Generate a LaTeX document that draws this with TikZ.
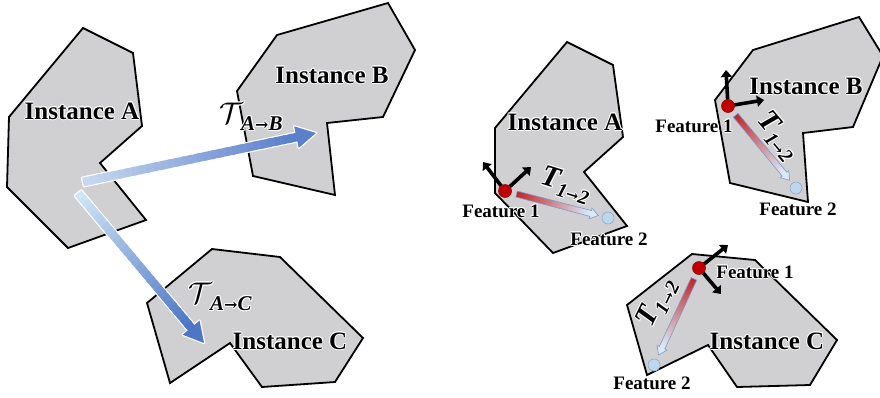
\documentclass[tikz,border=0pt]{standalone}
\usepackage{graphicx}
\usepackage{fontspec}
\setmainfont{Liberation Serif}
\newfontfamily\arrowfont{DejaVu Serif}
\usetikzlibrary{calc,arrows.meta}

\definecolor{shapegray}{HTML}{D0CFD1}
\definecolor{featred}{HTML}{C00000}
\definecolor{featredEdge}{HTML}{8A0A0A}
\definecolor{featblue}{HTML}{BDD7EE}
\definecolor{featblueEdge}{HTML}{8FAAC8}
\definecolor{palearrow}{HTML}{DCE8F5}
\definecolor{arrowedge}{HTML}{7C9CC9}
\definecolor{shaftred}{HTML}{C3262C}
\definecolor{paleAB}{HTML}{C8D9EF}
\definecolor{deepAB}{HTML}{5A7FCB}
\definecolor{paleAC}{HTML}{D0E5F6}
\definecolor{deepAC}{HTML}{4D77C6}

% text with a soft white outline
\newcommand\halo[1]{%
  \def\halocopy##1##2{\makebox[0pt][l]{\kern##1\raisebox{##2}{\color{white}#1}}}%
  \halocopy{1pt}{0pt}\halocopy{-1pt}{0pt}\halocopy{0pt}{1pt}\halocopy{0pt}{-1pt}%
  \halocopy{0.7pt}{0.7pt}\halocopy{-0.7pt}{0.7pt}\halocopy{0.7pt}{-0.7pt}\halocopy{-0.7pt}{-0.7pt}%
  #1}

% gradient arrow: #1 tail, #2 tip, #3 tail colour, #4 tip colour,
% #5 half shaft width, #6 half head width, #7 head length,
% #8 style drawn under, #9 style drawn over
\newcommand\gradarrow[9]{%
  \coordinate (#1-hb) at ($(#2)!#7!(#1)$);
  \path[#8] ($(#1)!#5!90:(#2)$) -- ($(#1-hb)!#5!90:(#2)$) -- ($(#1-hb)!#6!90:(#2)$)
    -- (#2) -- ($(#1-hb)!#6!-90:(#2)$) -- ($(#1-hb)!#5!-90:(#2)$) -- ($(#1)!#5!-90:(#2)$) -- cycle;
  \foreach \k in {0,...,29}{%
    \pgfmathsetmacro\ta{\k/30}%
    \pgfmathsetmacro\tb{(\k+1.4)/30}%
    \pgfmathtruncatemacro\mixp{100-100*\k/29}%
    \draw[line width=2*#5, draw=#3!\mixp!#4] ($(#1)!\ta!(#1-hb)$) -- ($(#1)!\tb!(#1-hb)$);
  }
  \fill[#4] ($(#1-hb)!#6!90:(#2)$) -- (#2) -- ($(#1-hb)!#6!-90:(#2)$) -- cycle;
  \path[#9] ($(#1)!#5!90:(#2)$) -- ($(#1-hb)!#5!90:(#2)$) -- ($(#1-hb)!#6!90:(#2)$)
    -- (#2) -- ($(#1-hb)!#6!-90:(#2)$) -- ($(#1-hb)!#5!-90:(#2)$) -- ($(#1)!#5!-90:(#2)$) -- cycle;
}

\tikzset{
  region/.style={fill=shapegray, draw=black, line width=1.8pt, line join=miter},
  inst/.style={font=\fontsize{25}{25}\selectfont\bfseries, inner sep=0pt},
  feat/.style={font=\fontsize{19}{19}\selectfont\bfseries, inner sep=0pt},
  translabel/.style={inner sep=0pt},
  axisarrow/.style={line width=3.6pt, -{Triangle[length=7pt,width=11pt]}},
  dotone/.style={circle, fill=featred, draw=featredEdge, line width=0.6pt, minimum size=13pt, inner sep=0pt},
  dottwo/.style={circle, fill=featblue, draw=featblueEdge, line width=0.6pt, minimum size=12pt, inner sep=0pt},
  whiteunder/.style={draw=white, line width=2.4pt, line join=round},
  blueover/.style={draw=arrowedge, line width=0.6pt, line join=miter},
  nothing/.style={},
}

\newcommand\calT[2]{\halo{\fontsize{24.88}{25}\selectfont\scalebox{1.2}{$\mathcal{T}$}\kern-2pt\raisebox{-7pt}{\fontsize{21}{21}\selectfont\bfseries\itshape #1{\arrowfont\upshape\bfseries\fontsize{16}{16}\selectfont→}#2}}}
\newcommand\featT{\halo{\fontsize{30}{30}\selectfont\bfseries\itshape T\raisebox{-7pt}{\fontsize{20}{20}\selectfont\bfseries\itshape 1{\arrowfont\upshape\bfseries\fontsize{15}{15}\selectfont→}2}}}

\begin{document}
\begin{tikzpicture}[x=1pt,y=-1pt]
\useasboundingbox (0,0) rectangle (880,397);
\clip (0,0) rectangle (880,397);

% ---------- left half: instance-level transformations ----------
\draw[region] (83,28) -- (133,53) -- (142,126) -- (100,163) -- (146,220) -- (68,248) -- (7,187) -- (9,117) -- cycle;
\draw[region] (277,35) -- (388,3) -- (415,50) -- (383,117) -- (327,123) -- (335,195) -- (253,176) -- (237,91) -- cycle;
\draw[region] (147,303) -- (212,249) -- (280,257) -- (363,338) -- (335,382) -- (262,387) -- (230,343) -- (170,383) -- cycle;

\coordinate (ab-tail) at (83,182);
\coordinate (ab-tip) at (316,133);
\coordinate (ac-tail) at (78,193);
\coordinate (ac-tip) at (204,343);
\gradarrow{ab-tail}{ab-tip}{paleAB}{deepAB}{4.3pt}{11pt}{20pt}{whiteunder}{nothing}
\gradarrow{ac-tail}{ac-tip}{paleAC}{deepAC}{4.3pt}{11pt}{20pt}{whiteunder}{nothing}

\node[inst] (instA) at (82,111) {\halo{Instance A}};
\node[inst] (instB) at (332,75) {\halo{Instance B}};
\node[inst] (instC) at (290,341) {\halo{Instance C}};
\node[translabel] (tAB) at (251,117) {\calT{A}{B}};
\node[translabel] (tAC) at (220,297) {\calT{A}{C}};

% ---------- right half: feature-level transformations ----------
\draw[region] (567,42) -- (613,65) -- (623,137) -- (584,172) -- (627,226) -- (553,253) -- (495,193) -- (495,128) -- cycle;
\draw[region] (753,50) -- (859,17) -- (883,56) -- (853,127) -- (803,133) -- (808,202) -- (730,183) -- (715,100) -- cycle;
\draw[region] (627,305) -- (692,254) -- (755,260) -- (837,340) -- (810,385) -- (737,387) -- (708,345) -- (647,375) -- cycle;

\node[inst] (instA2) at (565,122) {\halo{Instance A}};
\node[inst] (instB2) at (806,86) {\halo{Instance B}};
\node[inst] (instC2) at (767,341) {\halo{Instance C}};

% feature positions
\coordinate (f1a) at (505,191);
\coordinate (f2a) at (608,218);
\coordinate (f1b) at (728,106);
\coordinate (f2b) at (796,188);
\coordinate (f1c) at (699,268);
\coordinate (f2c) at (654,365);

% local frames
\coordinate (f1a-u) at (531,167);
\coordinate (f1a-v) at (483,162);
\coordinate (f1b-u) at (726,70);
\coordinate (f1b-v) at (764,100);
\coordinate (f1c-u) at (728,245);
\coordinate (f1c-v) at (721,294);
\draw[axisarrow] (f1a) -- (f1a-u);
\draw[axisarrow] (f1a) -- (f1a-v);
\draw[axisarrow] (f1b) -- (f1b-u);
\draw[axisarrow] (f1b) -- (f1b-v);
\draw[axisarrow] (f1c) -- (f1c-u);
\draw[axisarrow] (f1c) -- (f1c-v);

% feature-to-feature arrows
\coordinate (ta) at ($(f1a)!12pt!(f2a)$);
\coordinate (ha) at ($(f2a)!10pt!(f1a)$);
\coordinate (tb) at ($(f1b)!12pt!(f2b)$);
\coordinate (hb) at ($(f2b)!10pt!(f1b)$);
\coordinate (tc) at ($(f1c)!12pt!(f2c)$);
\coordinate (hc) at ($(f2c)!11pt!(f1c)$);
\gradarrow{ta}{ha}{shaftred}{palearrow}{3pt}{5.5pt}{8pt}{nothing}{blueover}
\gradarrow{tb}{hb}{shaftred}{palearrow}{3pt}{5.5pt}{8pt}{nothing}{blueover}
\gradarrow{tc}{hc}{shaftred}{palearrow}{3pt}{5.5pt}{8pt}{nothing}{blueover}

% feature points
\node[dotone] (fa1) at (f1a) {};
\node[dottwo] (fa2) at (f2a) {};
\node[dotone] (fb1) at (f1b) {};
\node[dottwo] (fb2) at (f2b) {};
\node[dotone] (fc1) at (f1c) {};
\node[dottwo] (fc2) at (f2c) {};

\node[feat] (la1) at (501,211) {\halo{Feature 1}};
\node[feat] (la2) at (609,239) {\halo{Feature 2}};
\node[feat] (lb1) at (694,126) {\halo{Feature 1}};
\node[feat] (lb2) at (798,209) {\halo{Feature 2}};
\node[feat] (lc1) at (755,272) {\halo{Feature 1}};
\node[feat] (lc2) at (652,383) {\halo{Feature 2}};

\node[translabel, rotate=-17] (ta-lab) at (566,185) {\featT};
\node[translabel, rotate=-50] (tb-lab) at (778,136) {\featT};
\node[translabel, rotate=64] (tc-lab) at (657,303) {\featT};
\end{tikzpicture}
\end{document}
